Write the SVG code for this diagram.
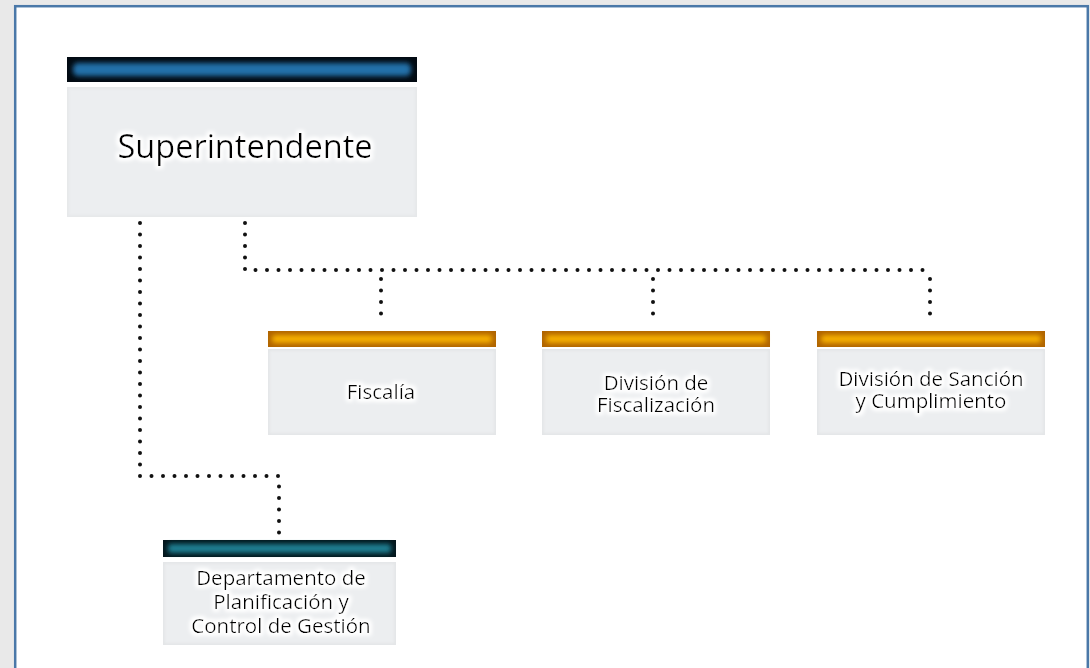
<svg xmlns="http://www.w3.org/2000/svg" width="1090" height="668" viewBox="0 0 1090 668">
<defs>
<style>
.body{fill:#eceef0}
.lbl{font-family:"Open Sans","Noto Sans","DejaVu Sans",sans-serif;font-weight:500;fill:#000;text-anchor:middle;filter:url(#glow)}
.sm{font-size:20.5px}
.dot{fill:none;stroke:#111;stroke-width:4;stroke-linecap:round;stroke-dasharray:0 11.5}
</style>
<filter id="glow" x="-20%" y="-40%" width="140%" height="180%">
<feMorphology in="SourceAlpha" operator="dilate" radius="2" result="d"/>
<feGaussianBlur in="d" stdDeviation="2" result="b"/>
<feFlood flood-color="#ffffff"/>
<feComposite in2="b" operator="in" result="w"/>
<feMerge><feMergeNode in="w"/><feMergeNode in="w"/><feMergeNode in="SourceGraphic"/></feMerge>
</filter>
<filter id="soft" x="-5%" y="-50%" width="110%" height="200%">
<feGaussianBlur stdDeviation="2.5"/>
</filter>
<filter id="edge" x="-5%" y="-5%" width="110%" height="110%">
<feGaussianBlur stdDeviation="1.2"/>
</filter>
</defs>
<rect x="0" y="0" width="1090" height="668" fill="#e9e9e9"/>
<rect x="15.2" y="6.2" width="1072.6" height="700" fill="#ffffff" stroke="#4a78a8" stroke-width="2.5"/>

<g id="connectors">
<path class="dot" d="M140 223 V476 H279 V534"/>
<path class="dot" d="M245 223 V270 H930"/>
<path class="dot" d="M381 279 V325"/>
<path class="dot" d="M653 279 V325"/>
<path class="dot" d="M930 279 V325"/>
</g>

<g id="superintendente">
<rect x="67" y="57" width="350" height="25" fill="#020a12"/>
<rect x="73" y="63" width="338" height="13" rx="5" fill="#2070a8" filter="url(#soft)"/>
<rect x="67" y="87" width="350" height="130" fill="#e6e8ea"/>
<rect x="69" y="89" width="346" height="126" class="body" filter="url(#edge)"/>
<text class="lbl" x="245" y="158" font-size="32.5">Superintendente</text>
</g>

<g id="fiscalia">
<rect x="268" y="331" width="228" height="16" fill="#b06400"/>
<rect x="272" y="335" width="220" height="8" rx="3" fill="#f7b000" filter="url(#soft)"/>
<rect x="268" y="349" width="228" height="86" fill="#e4e6e8"/>
<rect x="270" y="351" width="224" height="82" class="body" filter="url(#edge)"/>
<text class="lbl sm" x="381" y="399">Fiscalía</text>
</g>

<g id="div-fiscalizacion">
<rect x="542" y="331" width="228" height="16" fill="#b06400"/>
<rect x="546" y="335" width="220" height="8" rx="3" fill="#f7b000" filter="url(#soft)"/>
<rect x="542" y="349" width="228" height="86" fill="#e4e6e8"/>
<rect x="544" y="351" width="224" height="82" class="body" filter="url(#edge)"/>
<text class="lbl sm" x="656" y="390"><tspan x="656">División de</tspan><tspan x="656" dy="22">Fiscalización</tspan></text>
</g>

<g id="div-sancion">
<rect x="817" y="331" width="228" height="16" fill="#b06400"/>
<rect x="821" y="335" width="220" height="8" rx="3" fill="#f7b000" filter="url(#soft)"/>
<rect x="817" y="349" width="228" height="86" fill="#e4e6e8"/>
<rect x="819" y="351" width="224" height="82" class="body" filter="url(#edge)"/>
<text class="lbl sm" x="931" y="386"><tspan x="931">División de Sanción</tspan><tspan x="931" dy="22">y Cumplimiento</tspan></text>
</g>

<g id="departamento">
<rect x="163" y="540" width="233" height="17" fill="#04161c"/>
<rect x="168" y="544" width="223" height="9" rx="3" fill="#1f7f92" filter="url(#soft)"/>
<rect x="163" y="562" width="233" height="83" fill="#e4e6e8"/>
<rect x="165" y="564" width="229" height="79" class="body" filter="url(#edge)"/>
<text class="lbl sm" x="281" y="585"><tspan x="281">Departamento de</tspan><tspan x="281" dy="24">Planificación y</tspan><tspan x="281" dy="24">Control de Gestión</tspan></text>
</g>
</svg>
